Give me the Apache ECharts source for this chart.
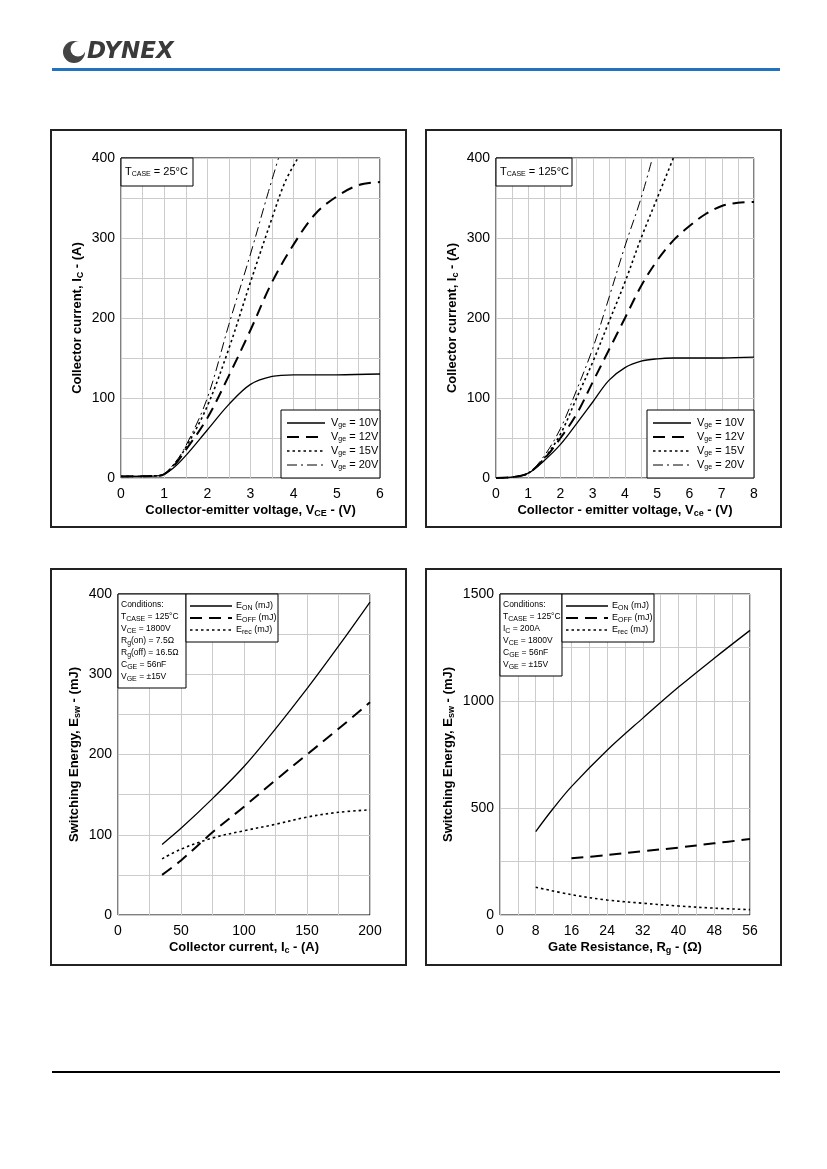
<!DOCTYPE html>
<html>
<head>
<meta charset="utf-8">
<script src="https://cdn.jsdelivr.net/npm/echarts@6/dist/echarts.min.js"></script>
<style>
  html, body { margin: 0; padding: 0; background: #fff; }
  #page { width: 827px; height: 1169px; }
</style>
</head>
<body>
<div id="page"></div>
<script>
// --- data ---
// Fig A: output characteristics, Tcase = 25C  [Vce, Ic]
var a25_10 = [[0,2],[0.5,2],[0.9,3],[1.2,12],[1.5,28],[2,60],[2.5,92],[3,117],[3.5,127],[4,129],[5,129],[6,130]];
var a25_12 = [[0,2],[0.9,3],[1.2,14],[1.5,35],[2,75],[2.5,128],[3,185],[3.5,245],[4,292],[4.5,330],[5,352],[5.5,366],[6,370]];
var a25_15 = [[0,2],[0.9,3],[1.2,15],[1.5,38],[2,90],[2.5,162],[3,245],[3.5,325],[3.8,370],[4.1,400]];
var a25_20 = [[0,2],[0.9,3],[1.2,16],[1.5,40],[2,100],[2.5,192],[3,280],[3.4,355],[3.65,400]];
// Fig B: Tcase = 125C
var a125_10 = [[0,0],[0.5,1],[1,6],[1.5,22],[2,42],[2.5,68],[3,95],[3.5,122],[4,138],[4.5,146],[5,149],[5.5,150],[6,150],[7,150],[8,151]];
var a125_12 = [[0,0],[0.5,1],[1,6],[1.5,24],[2,50],[2.5,80],[3,120],[3.5,160],[4,200],[4.5,240],[5,272],[5.5,297],[6,315],[6.5,330],[7,340],[7.5,344],[8,345]];
var a125_15 = [[0,0],[0.5,1],[1,6],[1.5,25],[2,55],[2.5,100],[3,145],[3.5,195],[4,245],[4.5,300],[5,350],[5.5,400]];
var a125_20 = [[0,0],[0.5,1],[1,6],[1.5,28],[2,62],[2.5,110],[3,162],[3.5,225],[4,290],[4.5,350],[4.85,400]];
// Fig C: switching energy vs Ic  [Ic, mJ]
var eIc_on  = [[35,88],[50,108],[75,145],[100,185],[125,232],[150,282],[175,335],[200,390]];
var eIc_off = [[35,50],[50,68],[75,103],[100,135],[125,168],[150,200],[175,232],[200,265]];
var eIc_rec = [[35,70],[50,82],[75,96],[100,105],[125,113],[150,122],[175,128],[200,131]];
// Fig D: switching energy vs Rg  [Rg, mJ]
var eRg_on  = [[8,390],[12,500],[16,600],[24,770],[32,920],[40,1065],[48,1200],[56,1330]];
var eRg_off = [[16,265],[24,280],[32,298],[40,315],[48,335],[56,355]];
var eRg_rec = [[8,130],[16,95],[24,70],[32,55],[40,42],[48,32],[56,25]];

var vgeNames = ['10V', '12V', '15V', '20V'];

var chart = echarts.init(document.getElementById('page'), null, {renderer: 'canvas'});

var FONT = 'Liberation Sans, Arial, sans-serif';
var subB = {fontSize: 9, fontWeight: 'bold', padding: [6, 0, 0, 0], fontFamily: FONT};

// line styles per curve type
var styles = {
    solid:  {color: '#000', width: 1.3, type: 'solid'},
    dash:   {color: '#000', width: 2, type: [12, 7]},
    dot:    {color: '#000', width: 1.6, type: [2.5, 3]},
    dashdot:{color: '#000', width: 1, type: [10, 4, 2, 4]}
};

function xAxis(idx, min, max, step, labelStep, name) {
    return {
        gridIndex: idx, type: 'value', min: min, max: max, interval: step,
        name: name, nameLocation: 'middle', nameGap: 25,
        nameTextStyle: {fontSize: 13, fontWeight: 'bold', color: '#000', fontFamily: FONT, rich: {s: subB}},
        axisLine: {show: false}, axisTick: {show: false},
        axisLabel: {fontSize: 14, color: '#000', margin: 9, fontFamily: FONT,
            formatter: function (v) { return Math.abs(v / labelStep - Math.round(v / labelStep)) < 1e-6 ? v : ''; }},
        splitLine: {show: true, lineStyle: {color: '#cccccc', width: 1}}
    };
}
function yAxis(idx, min, max, step, labelStep, name, gap) {
    return {
        gridIndex: idx, type: 'value', min: min, max: max, interval: step,
        name: name, nameLocation: 'middle', nameGap: gap, nameRotate: 90,
        nameTextStyle: {fontSize: 13, fontWeight: 'bold', color: '#000', fontFamily: FONT, rich: {s: subB}},
        axisLine: {show: false}, axisTick: {show: false},
        axisLabel: {fontSize: 14, color: '#000', margin: 6, fontFamily: FONT,
            formatter: function (v) { return Math.abs(v / labelStep - Math.round(v / labelStep)) < 1e-6 ? v : ''; }},
        splitLine: {show: true, lineStyle: {color: '#cccccc', width: 1}}
    };
}
function line(idx, data, st, name) {
    return {
        type: 'line', name: name, xAxisIndex: idx, yAxisIndex: idx, data: data,
        smooth: 0.35, symbol: 'none', lineStyle: st, clip: true, silent: true, z: 5
    };
}

var grids = [
    {left: 121, top: 158, width: 259, height: 320},
    {left: 496, top: 158, width: 258, height: 320},
    {left: 118, top: 594, width: 252, height: 321},
    {left: 500, top: 594, width: 250, height: 321}
];
grids.forEach(function (g) { g.show = true; g.borderColor = '#000'; g.borderWidth = 1; g.backgroundColor = 'transparent'; });

// --- graphic helpers ---
var G = [];
function rect(x, y, w, h, lw) {
    G.push({type: 'rect', shape: {x: x, y: y, width: w, height: h},
        style: {fill: '#fff', stroke: '#000', lineWidth: lw || 1}, z: 10});
}
function frame(x, y, w, h) {
    G.push({type: 'rect', shape: {x: x, y: y, width: w, height: h},
        style: {fill: 'none', stroke: '#222', lineWidth: 2}, z: 1});
}
function seg(x1, y1, x2, y2, st) {
    G.push({type: 'line', shape: {x1: x1, y1: y1, x2: x2, y2: y2},
        style: {stroke: '#000', lineWidth: st.width, lineDash: st.type === 'solid' ? null : st.type}, z: 11});
}
function txt(x, y, s, size) {
    G.push({type: 'text', x: x, y: y, z: 11,
        style: {text: s, fontSize: size || 11, fill: '#000', fontFamily: FONT, verticalAlign: 'middle',
            rich: {s: {fontSize: 7, padding: [5, 0, 0, 0], fontFamily: FONT}}}});
}

frame(51, 130, 355, 397);
frame(426, 130, 355, 397);
frame(51, 569, 355, 396);
frame(426, 569, 355, 396);

// Tcase boxes
rect(121, 158, 72, 28); txt(125, 172, 'T{s|CASE} = 25°C', 11);
rect(496, 158, 76, 28); txt(500, 172, 'T{s|CASE} = 125°C', 11);

// Vge legends
var vgeSt = [styles.solid, styles.dash, styles.dot, styles.dashdot];
function vgeLegend(x0, y0, w) {
    rect(x0, y0, w, 68);
    vgeSt.forEach(function (st, i) {
        var y = y0 + 13 + i * 14;
        seg(x0 + 6, y, x0 + 44, y, st);
        txt(x0 + 50, y, 'V{s|ge} = ' + vgeNames[i], 11);
    });
}
vgeLegend(281, 410, 99);
vgeLegend(647, 410, 107);

// energy legends
var eNames = ['E{s|ON} (mJ)', 'E{s|OFF} (mJ)', 'E{s|rec} (mJ)'];
var eSt = [styles.solid, styles.dash, styles.dot];
function eLegend(x0, y0) {
    rect(x0, y0, 92, 48);
    eSt.forEach(function (st, i) {
        var y = y0 + 12 + i * 12;
        seg(x0 + 4, y, x0 + 46, y, st);
        txt(x0 + 50, y, eNames[i], 9);
    });
}
function condBox(x0, y0, w, rows) {
    rect(x0, y0, w, rows.length * 12 + 10);
    rows.forEach(function (r, i) { txt(x0 + 3, y0 + 11 + i * 12, r, 8.5); });
}
condBox(118, 594, 68, ['Conditions:', 'T{s|CASE} = 125°C', 'V{s|CE} = 1800V', 'R{s|g}(on) = 7.5Ω', 'R{s|g}(off) = 16.5Ω', 'C{s|GE} = 56nF', 'V{s|GE} = ±15V']);
eLegend(186, 594);
condBox(500, 594, 62, ['Conditions:', 'T{s|CASE} = 125°C', 'I{s|C} = 200A', 'V{s|CE} = 1800V', 'C{s|GE} = 56nF', 'V{s|GE} = ±15V']);
eLegend(562, 594);

// header: logo, blue rule, footer rule
G.push({type: 'circle', shape: {cx: 74, cy: 52, r: 11}, style: {fill: '#444'}, z: 2});
G.push({type: 'circle', shape: {cx: 78, cy: 49, r: 7.5}, style: {fill: '#fff'}, z: 3});
G.push({type: 'text', x: 87, y: 52, z: 3, style: {text: 'DYNEX', fontSize: 23, fontWeight: 'bold', fontStyle: 'italic',
    fill: '#3a3a3a', fontFamily: 'DejaVu Sans, sans-serif', verticalAlign: 'middle'}});
G.push({type: 'rect', shape: {x: 52, y: 68, width: 728, height: 3}, style: {fill: '#1f73c0'}, z: 2});
G.push({type: 'rect', shape: {x: 52, y: 1071, width: 728, height: 2}, style: {fill: '#000'}, z: 2});

chart.setOption({
    animation: false,
    backgroundColor: '#fff',
    grid: grids,
    xAxis: [
        xAxis(0, 0, 6, 0.5, 1, 'Collector-emitter voltage, V{s|CE} - (V)'),
        xAxis(1, 0, 8, 0.5, 1, 'Collector - emitter voltage, V{s|ce} - (V)'),
        xAxis(2, 0, 200, 25, 50, 'Collector current, I{s|c} - (A)'),
        xAxis(3, 0, 56, 4, 8, 'Gate Resistance, R{s|g} - (Ω)')
    ],
    yAxis: [
        yAxis(0, 0, 400, 50, 100, 'Collector current, I{s|C} - (A)', 36),
        yAxis(1, 0, 400, 50, 100, 'Collector current, I{s|c} - (A)', 36),
        yAxis(2, 0, 400, 50, 100, 'Switching Energy, E{s|sw} - (mJ)', 36),
        yAxis(3, 0, 1500, 250, 500, 'Switching Energy, E{s|sw} - (mJ)', 44)
    ],
    series: [
        line(0, a25_10, styles.solid, '10V'), line(0, a25_12, styles.dash, '12V'),
        line(0, a25_15, styles.dot, '15V'), line(0, a25_20, styles.dashdot, '20V'),
        line(1, a125_10, styles.solid, '10V'), line(1, a125_12, styles.dash, '12V'),
        line(1, a125_15, styles.dot, '15V'), line(1, a125_20, styles.dashdot, '20V'),
        line(2, eIc_on, styles.solid, 'Eon'), line(2, eIc_off, styles.dash, 'Eoff'), line(2, eIc_rec, styles.dot, 'Erec'),
        line(3, eRg_on, styles.solid, 'Eon'), line(3, eRg_off, styles.dash, 'Eoff'), line(3, eRg_rec, styles.dot, 'Erec')
    ],
    graphic: G
});
</script>
</body>
</html>
